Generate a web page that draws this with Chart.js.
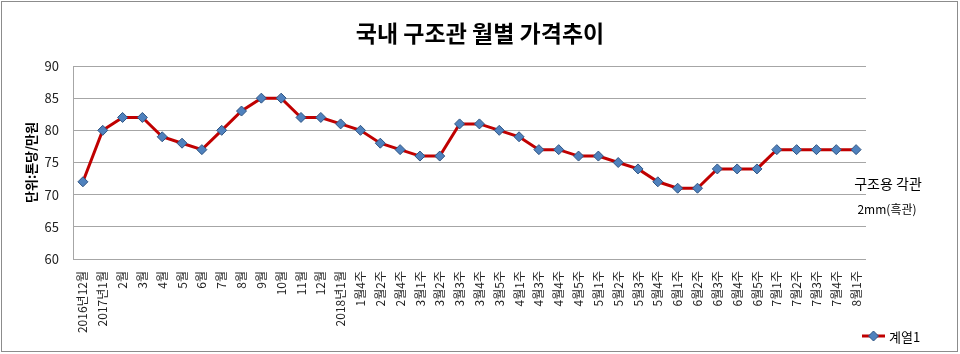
<!DOCTYPE html>
<html>
<head>
<meta charset="utf-8">
<script src="https://cdn.jsdelivr.net/npm/chart.js@4"></script>
<style>
  html, body { margin: 0; padding: 0; background: #fff; }
  #wrap { width: 960px; height: 354px; }
</style>
</head>
<body>
<div id="wrap"><canvas id="priceChart" width="960" height="354"></canvas></div>
<script>
// 월별 / 주별 라벨
const periodLabels = [
  '2016년12월', '2017년1월', '2월', '3월', '4월', '5월', '6월', '7월', '8월', '9월', '10월', '11월', '12월',
  '2018년1월', '1월4주', '2월2주', '2월4주', '3월1주', '3월2주', '3월3주', '3월4주', '3월5주',
  '4월1주', '4월3주', '4월4주', '4월5주', '5월1주', '5월2주', '5월3주', '5월4주',
  '6월1주', '6월2주', '6월3주', '6월4주', '6월5주', '7월1주', '7월2주', '7월3주', '7월4주', '8월1주'
];
// 계열1 (톤당 만원)
const series1 = [
  72, 80, 82, 82, 79, 78, 77, 80, 83, 85, 85, 82, 82,
  81, 80, 78, 77, 76, 76, 81, 81, 80,
  79, 77, 77, 76, 76, 75, 74, 72,
  71, 71, 74, 74, 74, 77, 77, 77, 77, 77
];
const seriesName = '계열1';
const chartTitle = '국내 구조관 월별 가격추이';
const yAxisTitle = '단위:톤당/만원';
const noteLines = ['구조용 각관', '2mm(흑관)'];

const KR = '"Noto Sans CJK KR", "Noto Sans", sans-serif';
const lineColor = '#C00000';
const markerFill = '#4F81BD';
const markerBorder = '#2F5482';

// 제목, 테두리, 메모, 범례
const decorations = {
  id: 'decorations',
  afterDraw(chart) {
    const c = chart.ctx;
    c.save();
    c.strokeStyle = '#8c8c8c';
    c.lineWidth = 1;
    c.strokeRect(1.5, 1.5, 956, 350);

    c.fillStyle = '#000';
    c.textAlign = 'center';
    c.textBaseline = 'middle';
    c.font = 'bold 23px ' + KR;
    c.fillText(chartTitle, 480, 33);

    c.font = '14px ' + KR;
    c.fillText(noteLines[0], 888, 184);
    c.font = '12px ' + KR;
    c.fillText(noteLines[1], 887, 209);

    // 범례
    c.strokeStyle = lineColor;
    c.lineWidth = 3;
    c.beginPath();
    c.moveTo(862, 336);
    c.lineTo(885, 336);
    c.stroke();
    c.fillStyle = markerFill;
    c.strokeStyle = markerBorder;
    c.lineWidth = 1;
    c.beginPath();
    c.moveTo(873.5, 331);
    c.lineTo(878.5, 336);
    c.lineTo(873.5, 341);
    c.lineTo(868.5, 336);
    c.closePath();
    c.fill();
    c.stroke();
    c.fillStyle = '#000';
    c.textAlign = 'left';
    c.font = '13px ' + KR;
    c.fillText(seriesName, 889, 337);
    c.restore();
  }
};

const ctx = document.getElementById('priceChart').getContext('2d');
new Chart(ctx, {
  type: 'line',
  data: {
    labels: periodLabels,
    datasets: [{
      label: seriesName,
      data: series1,
      borderColor: lineColor,
      borderWidth: 3,
      tension: 0,
      pointStyle: 'rectRot',
      pointRadius: 5,
      pointBackgroundColor: markerFill,
      pointBorderColor: markerBorder,
      pointBorderWidth: 1,
    }]
  },
  options: {
    responsive: false,
    animation: false,
    layout: { padding: { left: 0, right: 94, top: 66, bottom: 0 } },
    plugins: {
      legend: { display: false },
      title: { display: false },
      tooltip: { enabled: false },
    },
    scales: {
      x: {
        offset: true,
        grid: { display: false, drawTicks: false },
        border: { display: false },
        ticks: {
          autoSkip: false,
          minRotation: 90,
          maxRotation: 90,
          padding: 12,
          color: '#222',
          font: { family: KR, size: 12 },
        },
        afterFit(scale) { scale.height = 95; },
      },
      y: {
        min: 60,
        max: 90,
        grid: { color: '#a6a6a6', drawTicks: false },
        border: { display: true, color: '#a6a6a6' },
        ticks: {
          stepSize: 5,
          padding: 14,
          color: '#222',
          font: { family: KR, size: 13 },
        },
        title: {
          display: true,
          text: yAxisTitle,
          color: '#000',
          padding: { top: 23, bottom: 0 },
          font: { family: KR, size: 13, weight: 'bold' },
        },
        afterFit(scale) { scale.width = 73; },
      }
    }
  },
  plugins: [decorations],
});
</script>
</body>
</html>
